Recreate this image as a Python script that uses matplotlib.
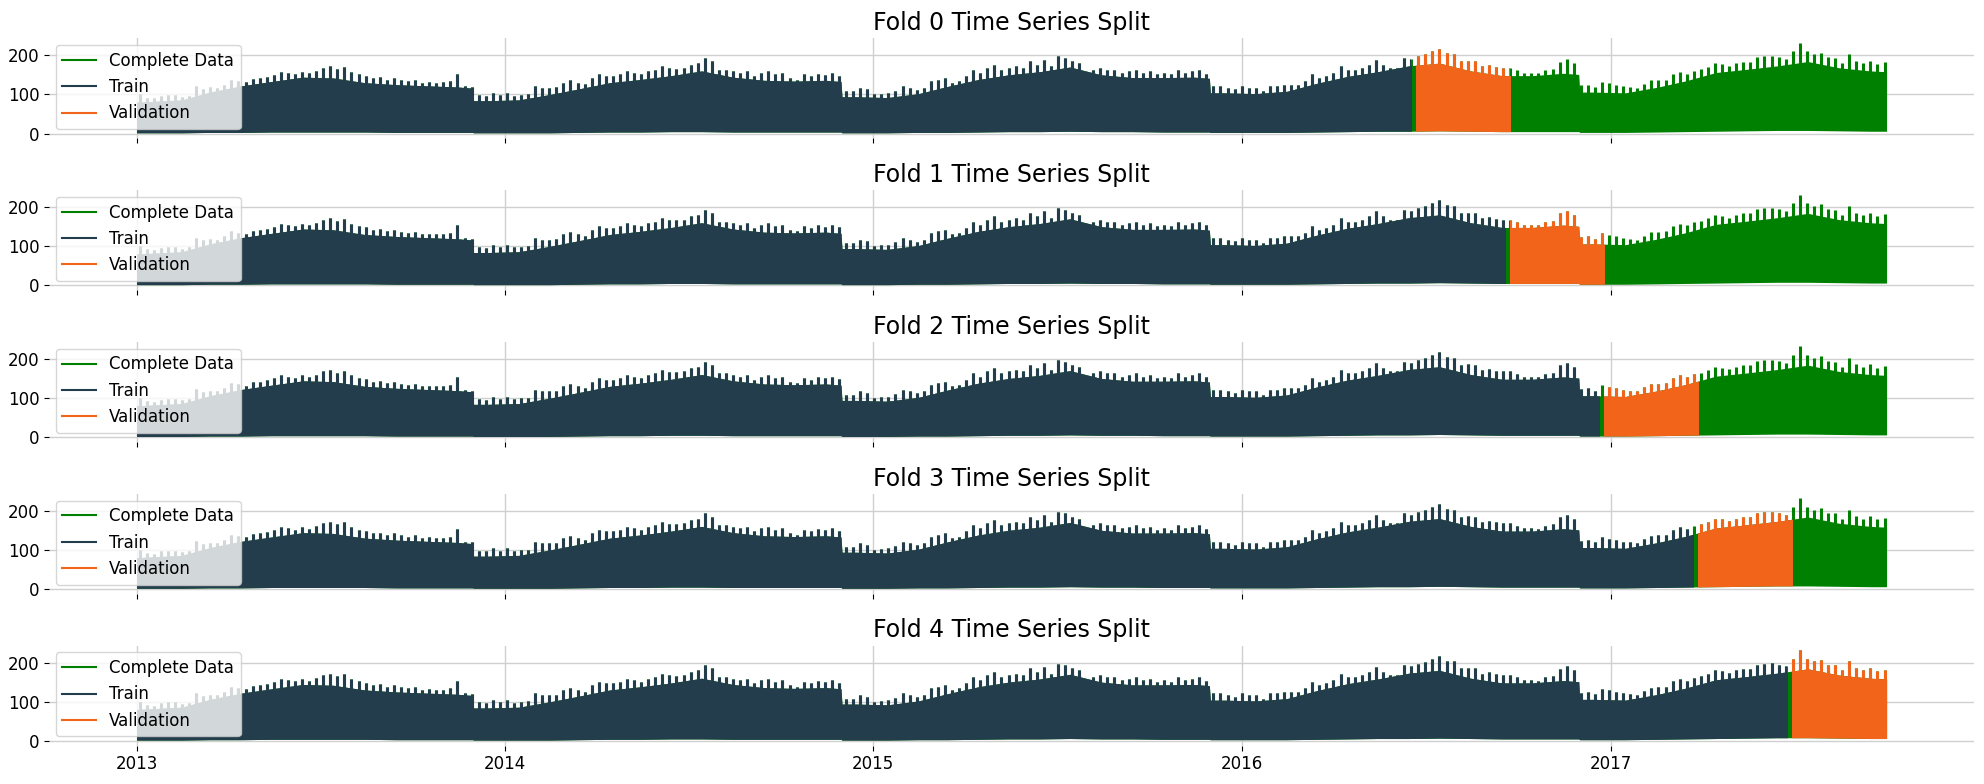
import numpy as np
import pandas as pd
import matplotlib
matplotlib.use("Agg")
import matplotlib.pyplot as plt
import matplotlib.dates as mdates
from matplotlib.patches import Rectangle

# weekly peak values (weekend spikes), one per week from 2013-01-04
week_peak = [
    100, 92, 90, 96, 98, 98, 94, 97, 122, 115,
    118, 117, 125, 138, 135, 132, 140, 142, 145, 150,
    158, 155, 152, 158, 154, 160, 168, 172, 165, 170,
    158, 152, 148, 142, 144, 138, 142, 137, 134, 137,
    130, 132, 130, 131, 134, 153, 121, 119, 98, 96,
    104, 98, 104, 97, 99, 101, 121, 117, 117, 118,
    130, 136, 130, 126, 142, 151, 147, 147, 151, 159,
    155, 151, 159, 163, 172, 167, 166, 168, 176, 180,
    193, 185, 163, 163, 159, 155, 159, 147, 155, 159,
    151, 155, 142, 138, 151, 147, 153, 150, 155, 148,
    108, 108, 117, 113, 100, 102, 104, 110, 121, 117,
    112, 117, 134, 138, 142, 130, 134, 147, 163, 155,
    168, 176, 163, 168, 172, 168, 185, 176, 189, 172,
    197, 193, 185, 180, 155, 163, 168, 163, 163, 155,
    159, 163, 155, 159, 151, 155, 151, 163, 155, 159,
    163, 153, 121, 121, 117, 113, 121, 117, 117, 108,
    121, 121, 125, 125, 125, 134, 151, 142, 147, 155,
    172, 163, 163, 168, 176, 189, 176, 168, 168, 193,
    190, 197, 202, 210, 217, 205, 203, 185, 186, 185,
    172, 175, 170, 168, 168, 162, 155, 155, 154, 162,
    165, 184, 190, 180, 123, 125, 119, 133, 129, 125,
    121, 119, 117, 127, 136, 137, 138, 152, 158, 153,
    161, 165, 171, 180, 178, 173, 180, 184, 184, 195,
    197, 198, 195, 190, 210, 232, 210, 203, 207, 195,
    193, 180, 203, 186, 180, 186, 178, 182,
]

# weekday level (top of the dense body) and its lower edge, read at these dates
body_dates = [
    "2013-01-01", "2013-01-15", "2013-02-15", "2013-03-15", "2013-04-15", "2013-05-15",
    "2013-06-15", "2013-07-15", "2013-08-15", "2013-09-15", "2013-10-15", "2013-11-15",
    "2013-11-30", "2013-12-01", "2013-12-15",
    "2014-01-15", "2014-02-15", "2014-03-15", "2014-04-15", "2014-05-15", "2014-06-15",
    "2014-07-15", "2014-08-15", "2014-09-15", "2014-10-15", "2014-11-15",
    "2014-11-30", "2014-12-01", "2014-12-15",
    "2015-01-15", "2015-02-15", "2015-03-15", "2015-04-15", "2015-05-15", "2015-06-15",
    "2015-07-15", "2015-08-15", "2015-09-15", "2015-10-15", "2015-11-15",
    "2015-11-30", "2015-12-01", "2015-12-15",
    "2016-01-15", "2016-02-15", "2016-03-15", "2016-04-15", "2016-05-15", "2016-06-15",
    "2016-07-15", "2016-08-15", "2016-09-15", "2016-10-15", "2016-11-15",
    "2016-11-30", "2016-12-01", "2016-12-15",
    "2017-01-15", "2017-02-15", "2017-03-15", "2017-04-15", "2017-05-15", "2017-06-15",
    "2017-07-15", "2017-08-15", "2017-09-15", "2017-10-01",
]
body_level = [
    80, 82, 86, 106, 122, 133, 144, 142, 130, 125, 122, 119,
    116, 84, 84,
    86, 100, 114, 130, 138, 148, 160, 144, 136, 134, 136,
    133, 94, 94,
    92, 102, 120, 138, 150, 158, 170, 150, 143, 143, 144,
    141, 104, 104,
    102, 108, 128, 146, 158, 173, 180, 160, 148, 148, 154,
    151, 106, 106,
    104, 118, 134, 156, 164, 173, 184, 168, 160, 158,
]
body_floor = [
    2, 2, 2, 3, 3, 4, 4, 4, 4, 3, 3, 3,
    3, 2, 2,
    2, 2, 3, 4, 4, 5, 5, 4, 4, 4, 4,
    4, 2, 2,
    2, 3, 3, 4, 5, 5, 6, 5, 5, 4, 4,
    4, 3, 3,
    3, 3, 4, 5, 6, 6, 7, 6, 5, 5, 5,
    5, 3, 3,
    3, 4, 5, 6, 7, 8, 8, 7, 6, 6,
]

# fold boundaries
train_end = ["2016-06-17", "2016-09-18", "2016-12-20", "2017-03-23", "2017-06-24"]
val_start = ["2016-06-22", "2016-09-23", "2016-12-25", "2017-03-28", "2017-06-29"]
val_end = ["2016-09-23", "2016-12-25", "2017-03-28", "2017-06-29", "2017-10-01"]

weeks = pd.date_range("2013-01-04", periods=len(week_peak), freq="7D")
bdates = pd.to_datetime(body_dates)

c_full = "#008000"
c_train = "#233D4D"
c_val = "#F26419"

fig, axes = plt.subplots(5, 1, figsize=(19.84, 7.84), dpi=100, sharex=True)
fig.subplots_adjust(left=0.0247, right=0.995, top=0.951, bottom=0.049, hspace=0.52)


def draw_series(ax, color, clip=None):
    body = ax.fill_between(bdates, body_floor, body_level,
                           color=color, linewidth=0, zorder=2)
    spikes = ax.vlines(weeks, 20, week_peak, color=color,
                       linewidth=2.2, zorder=2)
    if clip is not None:
        x0 = mdates.date2num(pd.Timestamp(clip[0]))
        x1 = mdates.date2num(pd.Timestamp(clip[1]))
        for art in (body, spikes):
            rect = Rectangle((x0, -100), x1 - x0, 600, transform=ax.transData)
            art.set_clip_path(rect)


for k, ax in enumerate(axes):
    draw_series(ax, c_full)
    draw_series(ax, c_train, ("2012-01-01", train_end[k]))
    draw_series(ax, c_val, (val_start[k], val_end[k]))

    ax.plot([], [], color=c_full, label="Complete Data")
    ax.plot([], [], color=c_train, label="Train")
    ax.plot([], [], color=c_val, label="Validation")
    ax.legend(loc="upper left", fontsize=12, borderaxespad=0.4)

    ax.set_title(f"Fold {k} Time Series Split", fontsize=17)
    ax.set_ylim(-12, 243)
    ax.set_yticks([0, 100, 200])
    ax.grid(True, color="#d0d0d0", linewidth=1.0)
    ax.set_axisbelow(True)
    for s in ax.spines.values():
        s.set_visible(False)
    ax.tick_params(labelsize=12)

axes[-1].xaxis.set_major_locator(mdates.YearLocator())
axes[-1].xaxis.set_major_formatter(mdates.DateFormatter("%Y"))

fig.savefig("out.png", dpi=100)
